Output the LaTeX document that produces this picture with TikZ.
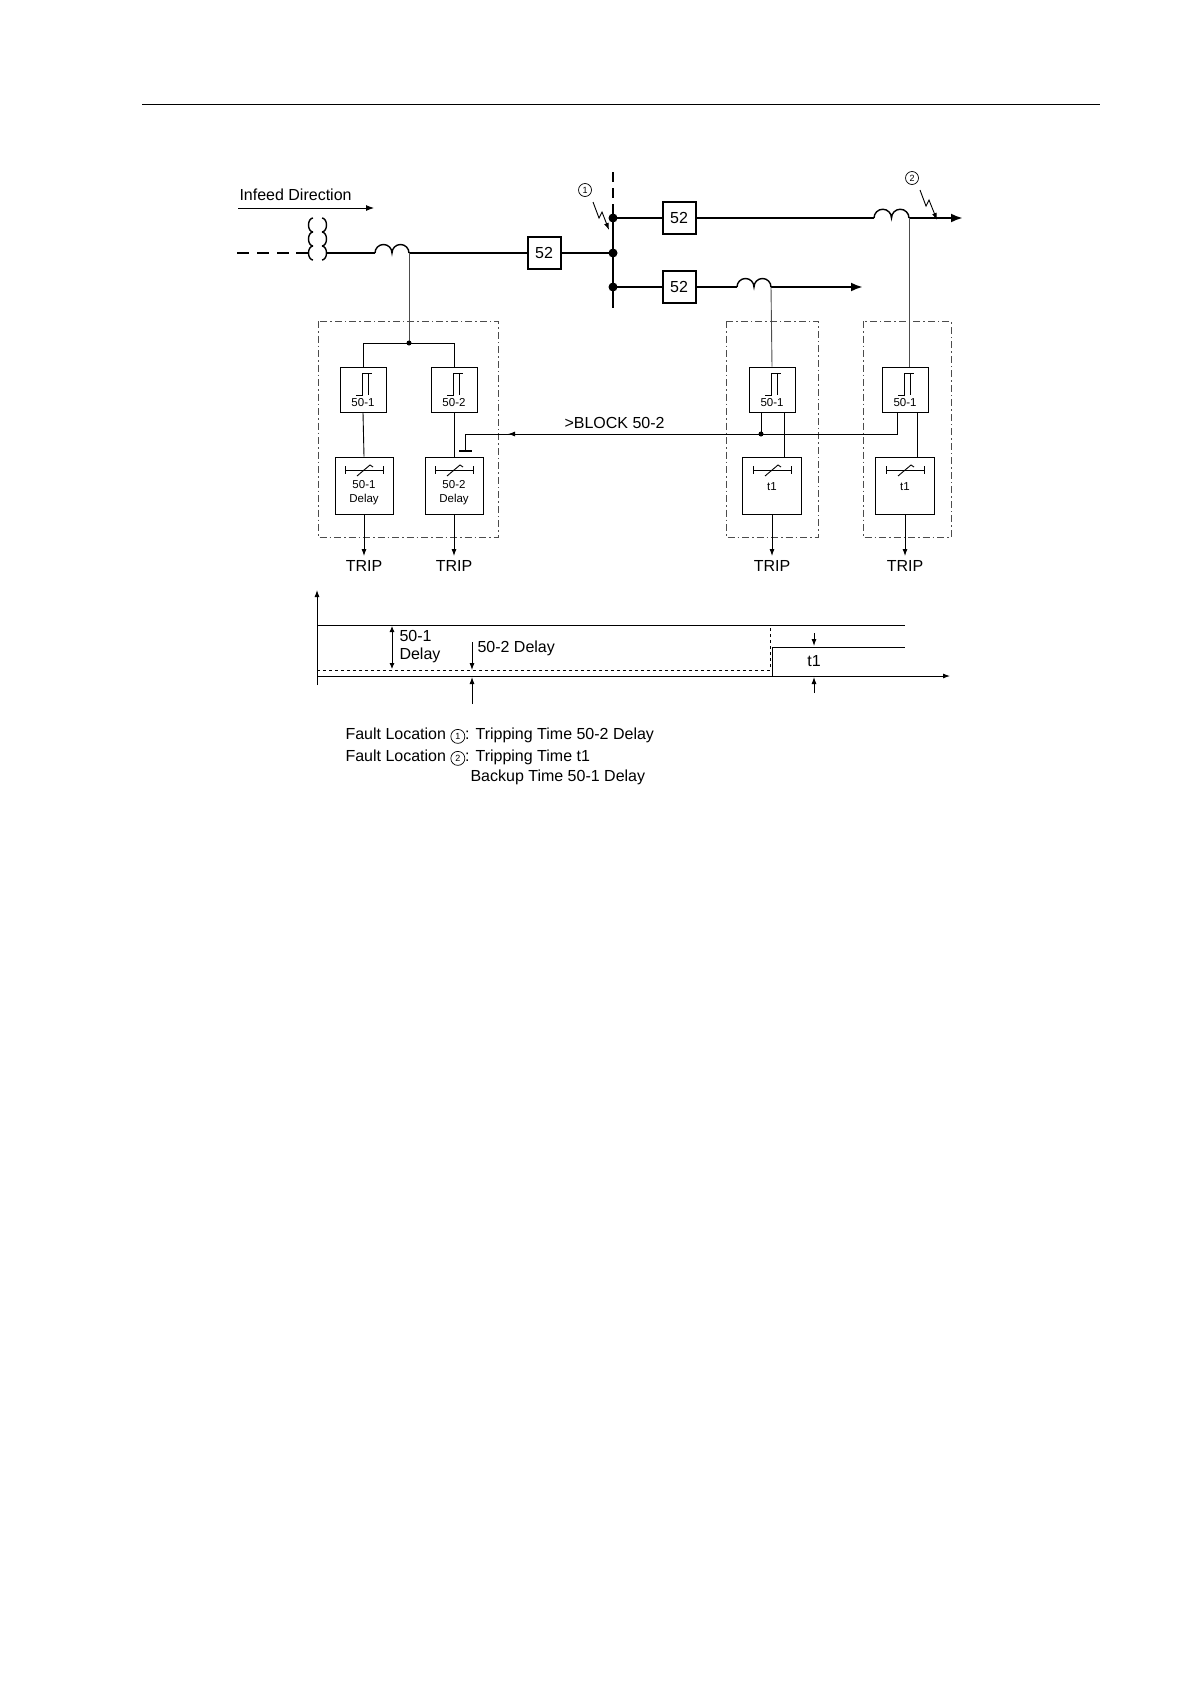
\documentclass[tikz,border=0pt]{standalone}
\usepackage{fontspec}
\setmainfont{Liberation Sans}
\usetikzlibrary{arrows.meta}
\begin{document}
\begin{tikzpicture}[x=1pt,y=-1pt,
  thick line/.style={line width=2.4pt},
  thin/.style={line width=0.9pt},
  gthin/.style={line width=0.9pt,draw=black!70},
  ddbox/.style={line width=0.8pt,draw=black!70,dash pattern=on 7pt off 3pt on 1.5pt off 3pt},
  blk/.style={draw,line width=1pt,fill=white},
  cb/.style={draw,line width=2pt,fill=white,minimum width=33pt,minimum height=32pt,inner sep=0pt,font=\fontsize{16}{16}\selectfont},
  lbl/.style={font=\fontsize{16}{18}\selectfont},
  sm/.style={font=\fontsize{11.5}{14}\selectfont,align=center},
  cnum/.style={circle,draw,line width=0.7pt,inner sep=0pt,minimum size=13pt,font=\fontsize{9}{9}\selectfont},
  arr/.style={-{Latex[length=8pt,width=6pt]}},
  sarr/.style={-{Latex[length=7pt,width=5pt]}}]
\useasboundingbox (0,0) rectangle (1190,1684);
% top rule
\draw[thin] (142,104) -- (1100,104);
% infeed
\node[lbl,anchor=west] (inf) at (236,195) {Infeed Direction};
\coordinate (ia) at (238,208); \coordinate (ib) at (374,208);
\draw[thin,arr] (ia) -- (ib);
% main line
\coordinate (m0) at (237,253); \coordinate (m1) at (296,253);
\draw[thick line,dash pattern=on 12pt off 8pt] (m0) -- (m1);
\draw[thick line] (m1) -- (309,253);
\draw[thick line] (326,253) -- (375,253);
% transformer coils
\foreach \k in {0,1,2}{
 \draw[line width=1.4pt] (313,{232+\k*14}) arc[start angle=90,end angle=270,x radius=4.5,y radius=7];
 \draw[line width=1.4pt] (322,{232+\k*14}) arc[start angle=90,end angle=-90,x radius=4.5,y radius=7];}
% CT on main
\draw[line width=1.4pt] (375,253) arc (180:360:8.5) arc (180:360:8.5);
\node[cb] (cb1) at (544,253) {52};
\draw[thick line] (409,253) -- (cb1.west);
\coordinate (bus0) at (613,172); \coordinate (bus1) at (613,213); \coordinate (bus2) at (613,308);
\draw[thick line,dash pattern=on 10pt off 6pt] (bus0) -- (bus1);
\draw[thick line] (bus1) -- (bus2);
\coordinate (j1) at (613,218); \coordinate (j2) at (613,253); \coordinate (j3) at (613,287);
\draw[thick line] (cb1.east) -- (j2);
\foreach \j in {j1,j2,j3} \fill (\j) circle (4.5pt);
\node[cb] (cb2) at (679,218) {52};
\node[cb] (cb3) at (679,287) {52};
\draw[thick line] (j1) -- (cb2.west);
\draw[thick line] (j3) -- (cb3.west);
% feeders
\draw[thick line] (cb2.east) -- (874,218);
\draw[line width=1.4pt] (874,218) arc (180:360:8.75) arc (180:360:8.75);
\coordinate (f1) at (963,218);
\draw[thick line,-{Latex[length=12pt,width=9pt]}] (909,218) -- (f1);
\draw[thick line] (cb3.east) -- (737,287);
\draw[line width=1.4pt] (737,287) arc (180:360:8.5) arc (180:360:8.5);
\coordinate (f2) at (863,287);
\draw[thick line,-{Latex[length=12pt,width=9pt]}] (771,287) -- (f2);
% fault marks
\node[cnum] (c1) at (585,190) {1};
\draw[line width=0.9pt,-{Latex[length=7pt,width=5pt]}] (593,202) -- (599,218) -- (602,212) -- (609,230);
\node[cnum] (c2) at (912,178) {2};
\draw[line width=0.9pt,-{Latex[length=7pt,width=5pt]}] (920,190) -- (926,206) -- (929,200) -- (937,220);
% dash-dot boxes
\draw[ddbox] (318,321) rectangle (498,537);
\draw[ddbox] (726,321) rectangle (818,537);
\draw[ddbox] (863,321) rectangle (951,537);
% threshold boxes and timers
\newcommand{\thr}[3]{%
  \node[blk,minimum width=46pt,minimum height=45pt,inner sep=0pt] (#1) at (#2,389.5) {};
  \draw[line width=0.9pt] (#2-7,395) -- (#2-1,395) -- (#2-1,373) -- (#2+9,373);
  \draw[line width=0.9pt] (#2+5,373) -- (#2+5,395);
  \node[sm] at (#2,403) {#3};}
\newcommand{\tmr}[5]{%
  \node[blk,minimum width=#4pt,minimum height=57pt,inner sep=0pt] (#1) at (#2,485.5) {};
  \draw[line width=0.9pt] (#2-19,470) -- (#2+19,470);
  \draw[line width=0.9pt] (#2-19,466) -- (#2-19,474);
  \draw[line width=0.9pt] (#2+19,466) -- (#2+19,474);
  \draw[line width=0.9pt] (#2-7,476) -- (#2+6,465) -- (#2+9,467);
  \node[sm] at (#2,#5) {#3};}
\thr{ta}{363}{50-1}
\thr{tb}{454}{50-2}
\thr{tc}{772}{50-1}
\thr{td}{905}{50-1}
\tmr{da}{364}{50-1\\Delay}{58}{493}
\tmr{db}{454}{50-2\\Delay}{58}{493}
\tmr{dc}{772}{t1}{59}{487}
\tmr{dd}{905}{t1}{59}{487}
% CT taps
\coordinate (jd) at (409,343);
\draw[gthin] (409,253) -- (jd);
\draw[thin] (ta.north) -- (363,343) -- (454,343) -- (tb.north);
\fill (jd) circle (2.5pt);
\draw[gthin] (771,287) -- (tc.north);
\draw[gthin] (909,218) -- (909,367);
% threshold to timer
\draw[thin] (ta.south) -- (da.north);
\draw[thin] (tb.south) -- (db.north);
\draw[thin] (784,412) -- (784,457);
\draw[thin] (917,412) -- (917,457);
% block signal
\coordinate (bd) at (761,434);
\draw[thin] (897,412) -- (897,434) -- (465,434) -- (465,451);
\draw[thin] (761,412) -- (bd);
\fill (bd) circle (2.5pt);
\draw[thin,sarr] (530,434) -- (508,434);
\draw[line width=2pt] (459,451) -- (472,451);
\node[lbl,anchor=west] (blk) at (561,423) {>BLOCK 50-2};
% trips
\foreach \n/\x in {da/364,db/454,dc/772,dd/905}{
  \draw[thin,sarr] (\n.south) -- (\x,556);
  \node[lbl] at (\x,566) {TRIP};}
% timing diagram
\draw[thin,sarr] (317,685) -- (317,590);
\draw[thin] (317,625) -- (905,625);
\draw[thin,dashed] (317,670) -- (770,670) -- (770,625);
\draw[thin,sarr] (317,676) -- (950,676);
\draw[thin] (772,676) -- (772,647) -- (905,647);
\draw[thin,{Latex[length=6pt,width=5pt]}-{Latex[length=6pt,width=5pt]}] (392,626) -- (392,669);
\node[lbl,anchor=west,align=left] at (396,647) {50-1\\Delay};
\draw[thin,sarr] (472,642) -- (472,670);
\draw[thin,sarr] (472,704) -- (472,677);
\node[lbl,anchor=west] at (474,648) {50-2 Delay};
\draw[thin,sarr] (814,633) -- (814,646);
\draw[thin,sarr] (814,693) -- (814,677);
\node[lbl] at (814,661) {t1};
% legend
\node[lbl,anchor=west] (l1) at (342,736) {Fault Location \tikz[baseline=-3.5pt]\node[cnum,minimum size=14pt]{1};: Tripping Time 50-2 Delay};
\node[lbl,anchor=west] (l2) at (342,758) {Fault Location \tikz[baseline=-3.5pt]\node[cnum,minimum size=14pt]{2};: Tripping Time t1};
\node[lbl,anchor=west] (l3) at (467,777) {Backup Time 50-1 Delay};
\end{tikzpicture}
\end{document}
